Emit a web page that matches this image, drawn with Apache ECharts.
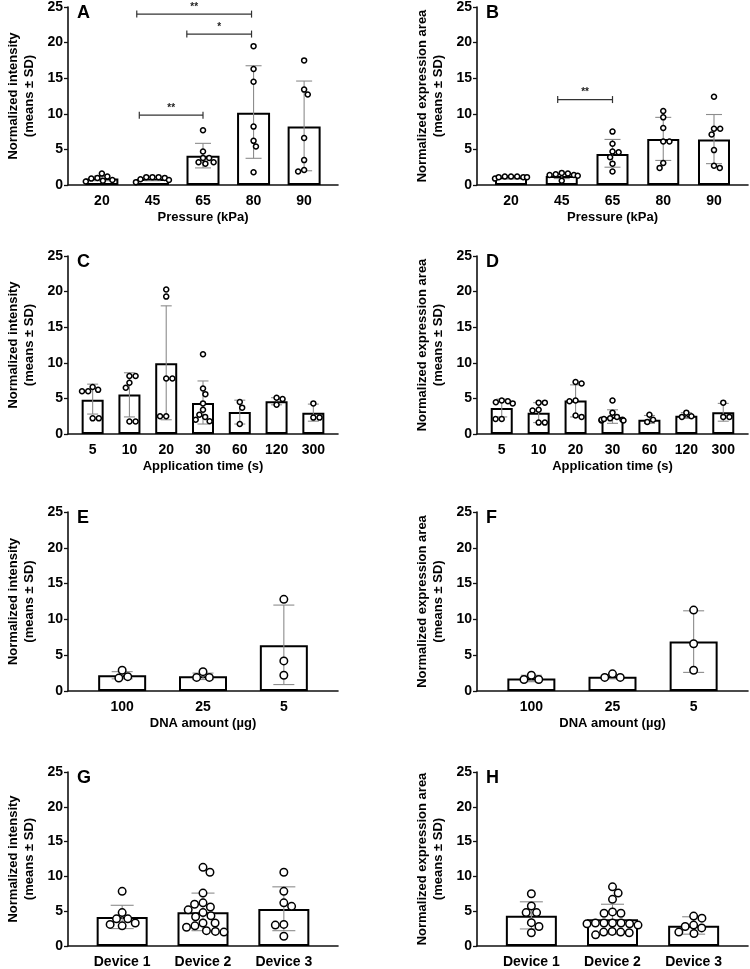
<!DOCTYPE html>
<html><head><meta charset="utf-8">
<script src="https://cdn.jsdelivr.net/npm/echarts@6/dist/echarts.min.js"></script>
<style>html,body{margin:0;padding:0;background:#fff}#c{width:750px;height:969px}</style>
</head><body><div id="c"></div>
<script>
// ---------- categories ----------
const catsPressure = ['20', '45', '65', '80', '90'];
const catsTime = ['5', '10', '20', '30', '60', '120', '300'];
const catsDNA = ['100', '25', '5'];
const catsDevice = ['Device 1', 'Device 2', 'Device 3'];

// ---------- panel A ----------
const A_means = [0.93, 0.85, 4.1, 10.15, 8.2];
const A_sdHigh = [1.25, 1.1, 5.85, 16.75, 14.6];
const A_sdLow = [0.6, 0.6, 2.4, 3.75, 2.0];
const A_pts = [[0.5, 1.6, 1.2, 1.0, 0.6, 0.7, 0.9], [1.1, 0.4, 1.1, 1.0, 0.8, 0.7, 1.1], [7.7, 4.7, 3.8, 3.8, 3.2, 3.0, 3.2], [19.5, 16.3, 14.5, 8.2, 6.2, 5.4, 1.8], [17.5, 13.4, 12.7, 6.6, 3.5, 1.9, 2.1]];
// significance brackets in A (category positions, height, label)
const A_sigFrom = [0.69, 1.68, 0.74];
const A_sigTo = [2.96, 2.96, 2.0];
const A_sigY = [24.0, 21.2, 9.8];
const A_sigLabel = ['**', '*', '**'];

// ---------- panel B ----------
const B_means = [1.08, 1.25, 4.35, 6.46, 6.4];
const B_sdHigh = [1.25, 1.6, 6.4, 9.5, 9.9];
const B_sdLow = [0.9, 0.9, 2.5, 3.45, 3.0];
const B_pts = [[1.1, 1.2, 1.2, 1.2, 0.9, 1.1, 1.1], [1.7, 1.4, 0.6, 1.5, 1.3, 1.6, 1.4], [7.5, 5.8, 4.7, 4.6, 3.9, 3.0, 1.9], [10.4, 9.5, 8.0, 6.1, 6.1, 3.1, 2.4], [12.4, 7.9, 7.9, 7.1, 4.9, 2.4, 2.7]];
const B_sigFrom = [0.92];
const B_sigTo = [2.0];
const B_sigY = [12.0];
const B_sigLabel = ['**'];

// ---------- panel C ----------
const C_means = [4.8, 5.55, 9.95, 4.35, 3.1, 4.6, 3.0];
const C_sdHigh = [7.0, 8.6, 18.0, 7.45, 4.75, 5.1, 4.2];
const C_sdLow = [2.8, 2.4, 2.0, 1.4, 1.4, 4.1, 1.8];
const C_pts = [[6.2, 6.0, 6.6, 6.0, 2.2, 2.2], [8.15, 8.15, 7.2, 6.5, 1.75, 1.75], [20.3, 19.3, 7.8, 7.8, 2.5, 2.5], [11.2, 6.4, 5.6, 4.3, 3.4, 2.7, 2.4, 1.8, 2.0], [4.5, 3.7, 1.4], [5.1, 4.9, 4.1], [4.3, 2.3, 2.3]];

// ---------- panel D ----------
const D_means = [3.65, 3.0, 4.7, 2.4, 2.0, 2.55, 3.05];
const D_sdHigh = [4.9, 4.4, 6.9, 3.4, 2.6, 3.0, 4.3];
const D_sdLow = [2.4, 1.6, 2.4, 1.5, 1.5, 2.2, 1.8];
const D_pts = [[4.45, 4.7, 4.3, 4.6, 2.1, 2.1], [4.4, 4.4, 3.4, 3.3, 1.6, 1.6], [7.1, 7.3, 4.7, 4.6, 2.4, 2.6], [4.7, 3.0, 2.4, 2.2, 2.0, 1.9, 1.9, 2.0, 2.1], [2.7, 1.7, 2.0], [3.0, 2.4, 2.5], [4.4, 2.4, 2.4]];

// ---------- panel E ----------
const E_means = [2.2, 2.05, 6.4];
const E_sdHigh = [2.7, 2.5, 12.0];
const E_sdLow = [1.7, 1.6, 0.9];
const E_pts = [[2.0, 2.9, 1.8], [1.9, 2.7, 1.9], [12.8, 4.2, 2.2]];

// ---------- panel F ----------
const F_means = [1.75, 2.0, 6.9];
const F_sdHigh = [2.2, 2.3, 11.2];
const F_sdLow = [1.3, 1.7, 2.6];
const F_pts = [[1.6, 2.2, 1.6], [1.9, 2.4, 1.9], [11.3, 6.6, 2.9]];

// ---------- panel G ----------
const G_means = [4.15, 4.85, 5.3];
const G_sdHigh = [5.85, 7.6, 8.5];
const G_sdLow = [2.5, 2.2, 2.2];
const G_pts = [[7.85, 3.1, 3.9, 3.3, 4.8, 3.9, 2.9], [11.3, 10.6, 7.6, 6.2, 5.6, 6.0, 4.8, 4.2, 4.35, 5.2, 2.1, 2.9, 3.3, 2.2, 2.7, 3.3, 2.0], [10.6, 7.85, 6.2, 5.7, 3.1, 3.0, 1.4]];

// ---------- panel H ----------
const H_means = [4.35, 3.85, 2.9];
const H_sdHigh = [6.35, 6.0, 4.2];
const H_sdLow = [2.45, 1.7, 1.7];
const H_pts = [[7.5, 4.8, 5.75, 4.8, 3.35, 2.8, 1.9], [8.5, 7.6, 6.7, 4.7, 4.7, 4.9, 3.3, 3.3, 3.2, 3.3, 3.3, 3.2, 3.0, 2.0, 2.1, 2.0, 1.9, 1.6], [4.3, 4.0, 3.0, 2.8, 2.0, 1.8, 2.6]];

// ---------- axis names ----------
const yNameIntensity = 'Normalized intensity\n(means \u00b1 SD)';
const yNameArea = 'Normalized expression area\n(means \u00b1 SD)';

// ---------- layout ----------
const FONT = '"Liberation Sans", Arial, Helvetica, sans-serif';
const colLeft = [68, 477], colWidth = [270, 271];
const rowTop = [7, 256, 512, 772], rowH = [178, 178, 179, 178];
const PAD = 0.67;

const panels = [
  { key: 'A', cats: catsPressure, means: A_means, hi: A_sdHigh, lo: A_sdLow, pts: A_pts, yName: yNameIntensity, xName: 'Pressure (kPa)', col: 0, row: 0, barW: 33, capW: 16, sym: 5, sig: [A_sigFrom, A_sigTo, A_sigY, A_sigLabel] },
  { key: 'B', cats: catsPressure, means: B_means, hi: B_sdHigh, lo: B_sdLow, pts: B_pts, yName: yNameArea, xName: 'Pressure (kPa)', col: 1, row: 0, barW: 32, capW: 16, sym: 5, sig: [B_sigFrom, B_sigTo, B_sigY, B_sigLabel] },
  { key: 'C', cats: catsTime, means: C_means, hi: C_sdHigh, lo: C_sdLow, pts: C_pts, yName: yNameIntensity, xName: 'Application time (s)', col: 0, row: 1, barW: 22, capW: 11, sym: 5 },
  { key: 'D', cats: catsTime, means: D_means, hi: D_sdHigh, lo: D_sdLow, pts: D_pts, yName: yNameArea, xName: 'Application time (s)', col: 1, row: 1, barW: 22, capW: 11, sym: 5 },
  { key: 'E', cats: catsDNA, means: E_means, hi: E_sdHigh, lo: E_sdLow, pts: E_pts, yName: yNameIntensity, xName: 'DNA amount (\u00b5g)', col: 0, row: 2, barW: 48, capW: 21, sym: 7.5 },
  { key: 'F', cats: catsDNA, means: F_means, hi: F_sdHigh, lo: F_sdLow, pts: F_pts, yName: yNameArea, xName: 'DNA amount (\u00b5g)', col: 1, row: 2, barW: 48, capW: 21, sym: 7.5 },
  { key: 'G', cats: catsDevice, means: G_means, hi: G_sdHigh, lo: G_sdLow, pts: G_pts, yName: yNameIntensity, xName: '', col: 0, row: 3, barW: 51, capW: 23, sym: 7.5 },
  { key: 'H', cats: catsDevice, means: H_means, hi: H_sdHigh, lo: H_sdLow, pts: H_pts, yName: yNameArea, xName: '', col: 1, row: 3, barW: 51, capW: 23, sym: 7.5 }
];

// beeswarm dot layout, returns x offsets in category units
function swarmOffsets(values, pxPerUnitY, pxPerCat, D, maxHalf) {
  const order = values.map((v, i) => i).sort((a, b) => values[b] - values[a]);
  const placed = [];
  const off = new Array(values.length).fill(0);
  let side = 1;
  order.forEach(i => {
    const y = values[i] * pxPerUnitY;
    const iv = [];
    placed.forEach(p => {
      const dy = Math.abs(p.y - y);
      if (dy < D) { const w = Math.sqrt(D * D - dy * dy); iv.push([p.x - w, p.x + w]); }
    });
    const cands = [0];
    iv.forEach(([a, b]) => cands.push(a, b));
    const ok = x => iv.every(([a, b]) => x <= a + 1e-6 || x >= b - 1e-6);
    let best = null;
    cands.filter(ok).forEach(x => {
      if (best === null || Math.abs(x) < Math.abs(best) - 1e-6 ||
          (Math.abs(Math.abs(x) - Math.abs(best)) < 1e-6 && Math.sign(x) === side)) best = x;
    });
    if (Math.abs(best) > 1e-6) side = -Math.sign(best);
    const xClamped = Math.max(-maxHalf, Math.min(maxHalf, best));
    placed.push({ x: xClamped, y: y });
    off[i] = xClamped / pxPerCat;
  });
  return off;
}

const option = {
  animation: false,
  backgroundColor: '#fff',
  title: [], grid: [], xAxis: [], yAxis: [], series: []
};

panels.forEach((p, k) => {
  const n = p.cats.length;
  const left = colLeft[p.col], width = colWidth[p.col];
  const top = rowTop[p.row], height = rowH[p.row];
  const xmin = -PAD, xmax = n - 1 + PAD;
  const pxPerCat = width / (xmax - xmin);
  const pxPerUnitY = height / 25;

  option.grid.push({ left: left, top: top, width: width, height: height, containLabel: false });
  option.title.push({ text: p.key, left: left + 9, top: top - 3, padding: 0, textStyle: { fontFamily: FONT, fontWeight: 'bold', fontSize: 18, color: '#000' } });

  option.xAxis.push({
    type: 'value', gridIndex: k, min: xmin, max: xmax,
    splitLine: { show: false },
    axisLine: { show: true, onZero: false, lineStyle: { color: '#111', width: 1.6 } },
    axisTick: { show: false },
    axisLabel: {
      customValues: p.cats.map((c, i) => i),
      formatter: v => p.cats[Math.round(v)],
      fontFamily: FONT, fontWeight: 'bold', fontSize: 14, color: '#000', margin: 9
    },
    name: p.xName, nameLocation: 'middle', nameGap: 26,
    nameTextStyle: { fontFamily: FONT, fontWeight: 'bold', fontSize: 13, color: '#000' }
  });
  option.yAxis.push({
    type: 'value', gridIndex: k, min: 0, max: 25, interval: 5,
    splitLine: { show: false },
    axisLine: { show: true, onZero: false, lineStyle: { color: '#111', width: 1.6 } },
    axisTick: { show: true, length: 4, lineStyle: { color: '#111', width: 1.3 } },
    axisLabel: { fontFamily: FONT, fontWeight: 'bold', fontSize: 14, color: '#000', margin: 5 },
    name: p.yName, nameLocation: 'middle', nameRotate: 90, nameGap: 31,
    nameTextStyle: { fontFamily: FONT, fontWeight: 'bold', fontSize: 13, lineHeight: 16, color: '#000' }
  });

  // bars
  option.series.push({
    type: 'bar', xAxisIndex: k, yAxisIndex: k, barWidth: p.barW, z: 2,
    data: p.means.map((m, i) => [i, m]),
    itemStyle: { color: '#fff', borderColor: '#000', borderWidth: 2 }
  });
  // error bars
  option.series.push({
    type: 'custom', xAxisIndex: k, yAxisIndex: k, z: 3,
    data: p.means.map((m, i) => [i, p.lo[i], p.hi[i]]),
    renderItem: (params, api) => {
      const x = api.value(0);
      const a = api.coord([x, api.value(1)]);
      const b = api.coord([x, api.value(2)]);
      const hw = p.capW / 2;
      const st = { stroke: '#8c8c8c', lineWidth: 1.1 };
      return { type: 'group', children: [
        { type: 'line', shape: { x1: a[0], y1: a[1], x2: b[0], y2: b[1] }, style: st },
        { type: 'line', shape: { x1: a[0] - hw, y1: a[1], x2: a[0] + hw, y2: a[1] }, style: st },
        { type: 'line', shape: { x1: b[0] - hw, y1: b[1], x2: b[0] + hw, y2: b[1] }, style: st }
      ] };
    }
  });
  // dots
  const D = (p.sym + 1.5) * 0.95;
  const dots = [];
  p.pts.forEach((vals, i) => {
    const off = swarmOffsets(vals, pxPerUnitY, pxPerCat, D, p.barW * 0.5);
    vals.forEach((v, j) => dots.push([i + off[j], v]));
  });
  option.series.push({
    type: 'scatter', xAxisIndex: k, yAxisIndex: k, z: 4,
    symbol: 'circle', symbolSize: p.sym, data: dots,
    itemStyle: { color: '#fff', borderColor: '#000', borderWidth: 1.5, opacity: 1 }
  });
  // significance brackets
  if (p.sig) {
    const [fr, to, yy, lab] = p.sig;
    option.series.push({
      type: 'custom', xAxisIndex: k, yAxisIndex: k, z: 5,
      data: fr.map((f, i) => [f, to[i], yy[i]]),
      renderItem: (params, api) => {
        const a = api.coord([api.value(0), api.value(2)]);
        const b = api.coord([api.value(1), api.value(2)]);
        const st = { stroke: '#333', lineWidth: 1.2 };
        return { type: 'group', children: [
          { type: 'line', shape: { x1: a[0], y1: a[1], x2: b[0], y2: b[1] }, style: st },
          { type: 'line', shape: { x1: a[0], y1: a[1] - 3.5, x2: a[0], y2: a[1] + 3.5 }, style: st },
          { type: 'line', shape: { x1: b[0], y1: b[1] - 3.5, x2: b[0], y2: b[1] + 3.5 }, style: st },
          { type: 'text', style: { text: lab[params.dataIndex], x: (a[0] + b[0]) / 2, y: a[1] - 2, align: 'center', verticalAlign: 'bottom', font: 'bold 10px ' + FONT, fill: '#222' } }
        ] };
      }
    });
  }
});

const chart = echarts.init(document.getElementById('c'));
chart.setOption(option);
</script>
</body></html>
